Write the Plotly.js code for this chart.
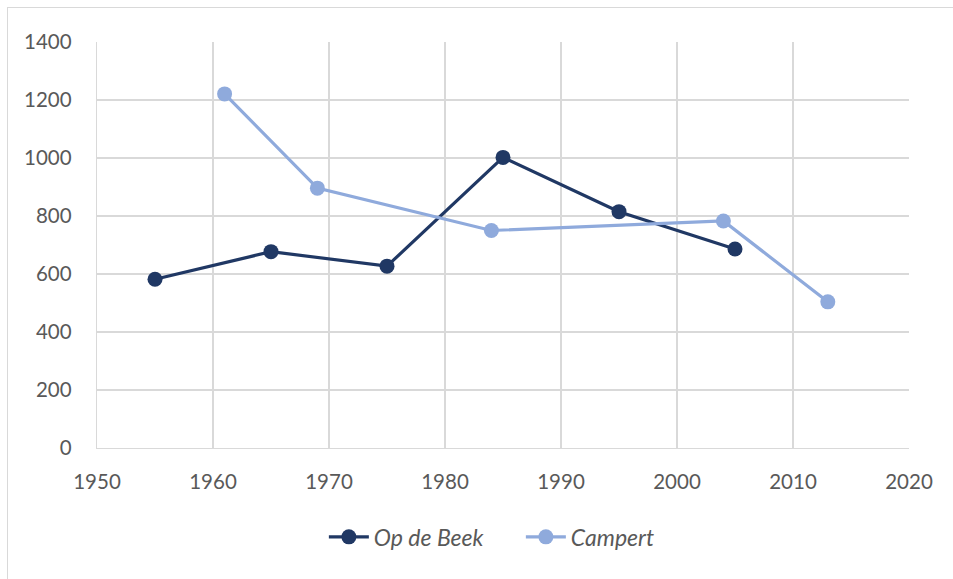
<!DOCTYPE html>
<html>
<head>
<meta charset="utf-8">
<script src="https://cdn.plot.ly/plotly-3.0.1.min.js"></script>
<style>
html,body{margin:0;padding:0;background:#fff;overflow:hidden;}
#frame{position:absolute;left:7px;top:7px;width:1000px;height:700px;border:1px solid #d9d9d9;box-sizing:border-box;}
#chart{position:absolute;left:0;top:0;width:953px;height:579px;}
</style>
</head>
<body>
<div id="frame"></div>
<div id="chart"></div>
<script>
const opDeBeekYears = [1955, 1965, 1975, 1985, 1995, 2005];
const opDeBeekValues = [582, 677, 627, 1002, 815, 686];
const campertYears = [1961, 1969, 1984, 2004, 2013];
const campertValues = [1221, 896, 750, 783, 504];
const xTicks = [1950, 1960, 1970, 1980, 1990, 2000, 2010, 2020];
const yTicks = [0, 200, 400, 600, 800, 1000, 1200, 1400];

const traces = [
  {
    x: opDeBeekYears, y: opDeBeekValues, name: 'Op de Beek',
    type: 'scatter', mode: 'lines+markers',
    line: {color: '#203864', width: 3.2},
    marker: {color: '#203864', size: 15}
  },
  {
    x: campertYears, y: campertValues, name: 'Campert',
    type: 'scatter', mode: 'lines+markers',
    line: {color: '#8faadc', width: 3.2},
    marker: {color: '#8faadc', size: 15}
  }
];

const tickFont = {family: 'Lato, "Open Sans", sans-serif', size: 20.5, color: '#595959'};

const layout = {
  width: 953, height: 579,
  margin: {l: 97, r: 44, t: 42, b: 131},
  paper_bgcolor: 'rgba(0,0,0,0)',
  plot_bgcolor: '#ffffff',
  showlegend: true,
  legend: {
    orientation: 'h', x: 0.522, xanchor: 'center', y: -0.219, yanchor: 'middle',
    font: {family: 'Lato, "Open Sans", sans-serif', size: 23, color: '#595959', style: 'italic'},
    itemwidth: 40, tracegroupgap: 0,
    entrywidth: 142, entrywidthmode: 'pixels'
  },
  xaxis: {
    range: [1950, 2020], tickvals: xTicks, ticktext: xTicks.map(String),
    showgrid: true, gridcolor: '#d9d9d9', gridwidth: 1.3,
    showline: true, linecolor: '#d9d9d9', linewidth: 1.3,
    zeroline: false, ticks: '', ticklen: 0,
    tickfont: tickFont, ticklabelstandoff: 15
  },
  yaxis: {
    range: [0, 1400], tickvals: yTicks, ticktext: yTicks.map(String),
    showgrid: true, gridcolor: '#d9d9d9', gridwidth: 1.3,
    showline: true, linecolor: '#d9d9d9', linewidth: 1.3,
    zeroline: false, ticks: '', ticklen: 0,
    tickfont: tickFont, ticklabelstandoff: 20
  }
};

Plotly.newPlot('chart', traces, layout, {displayModeBar: false, staticPlot: true});
</script>
</body>
</html>
